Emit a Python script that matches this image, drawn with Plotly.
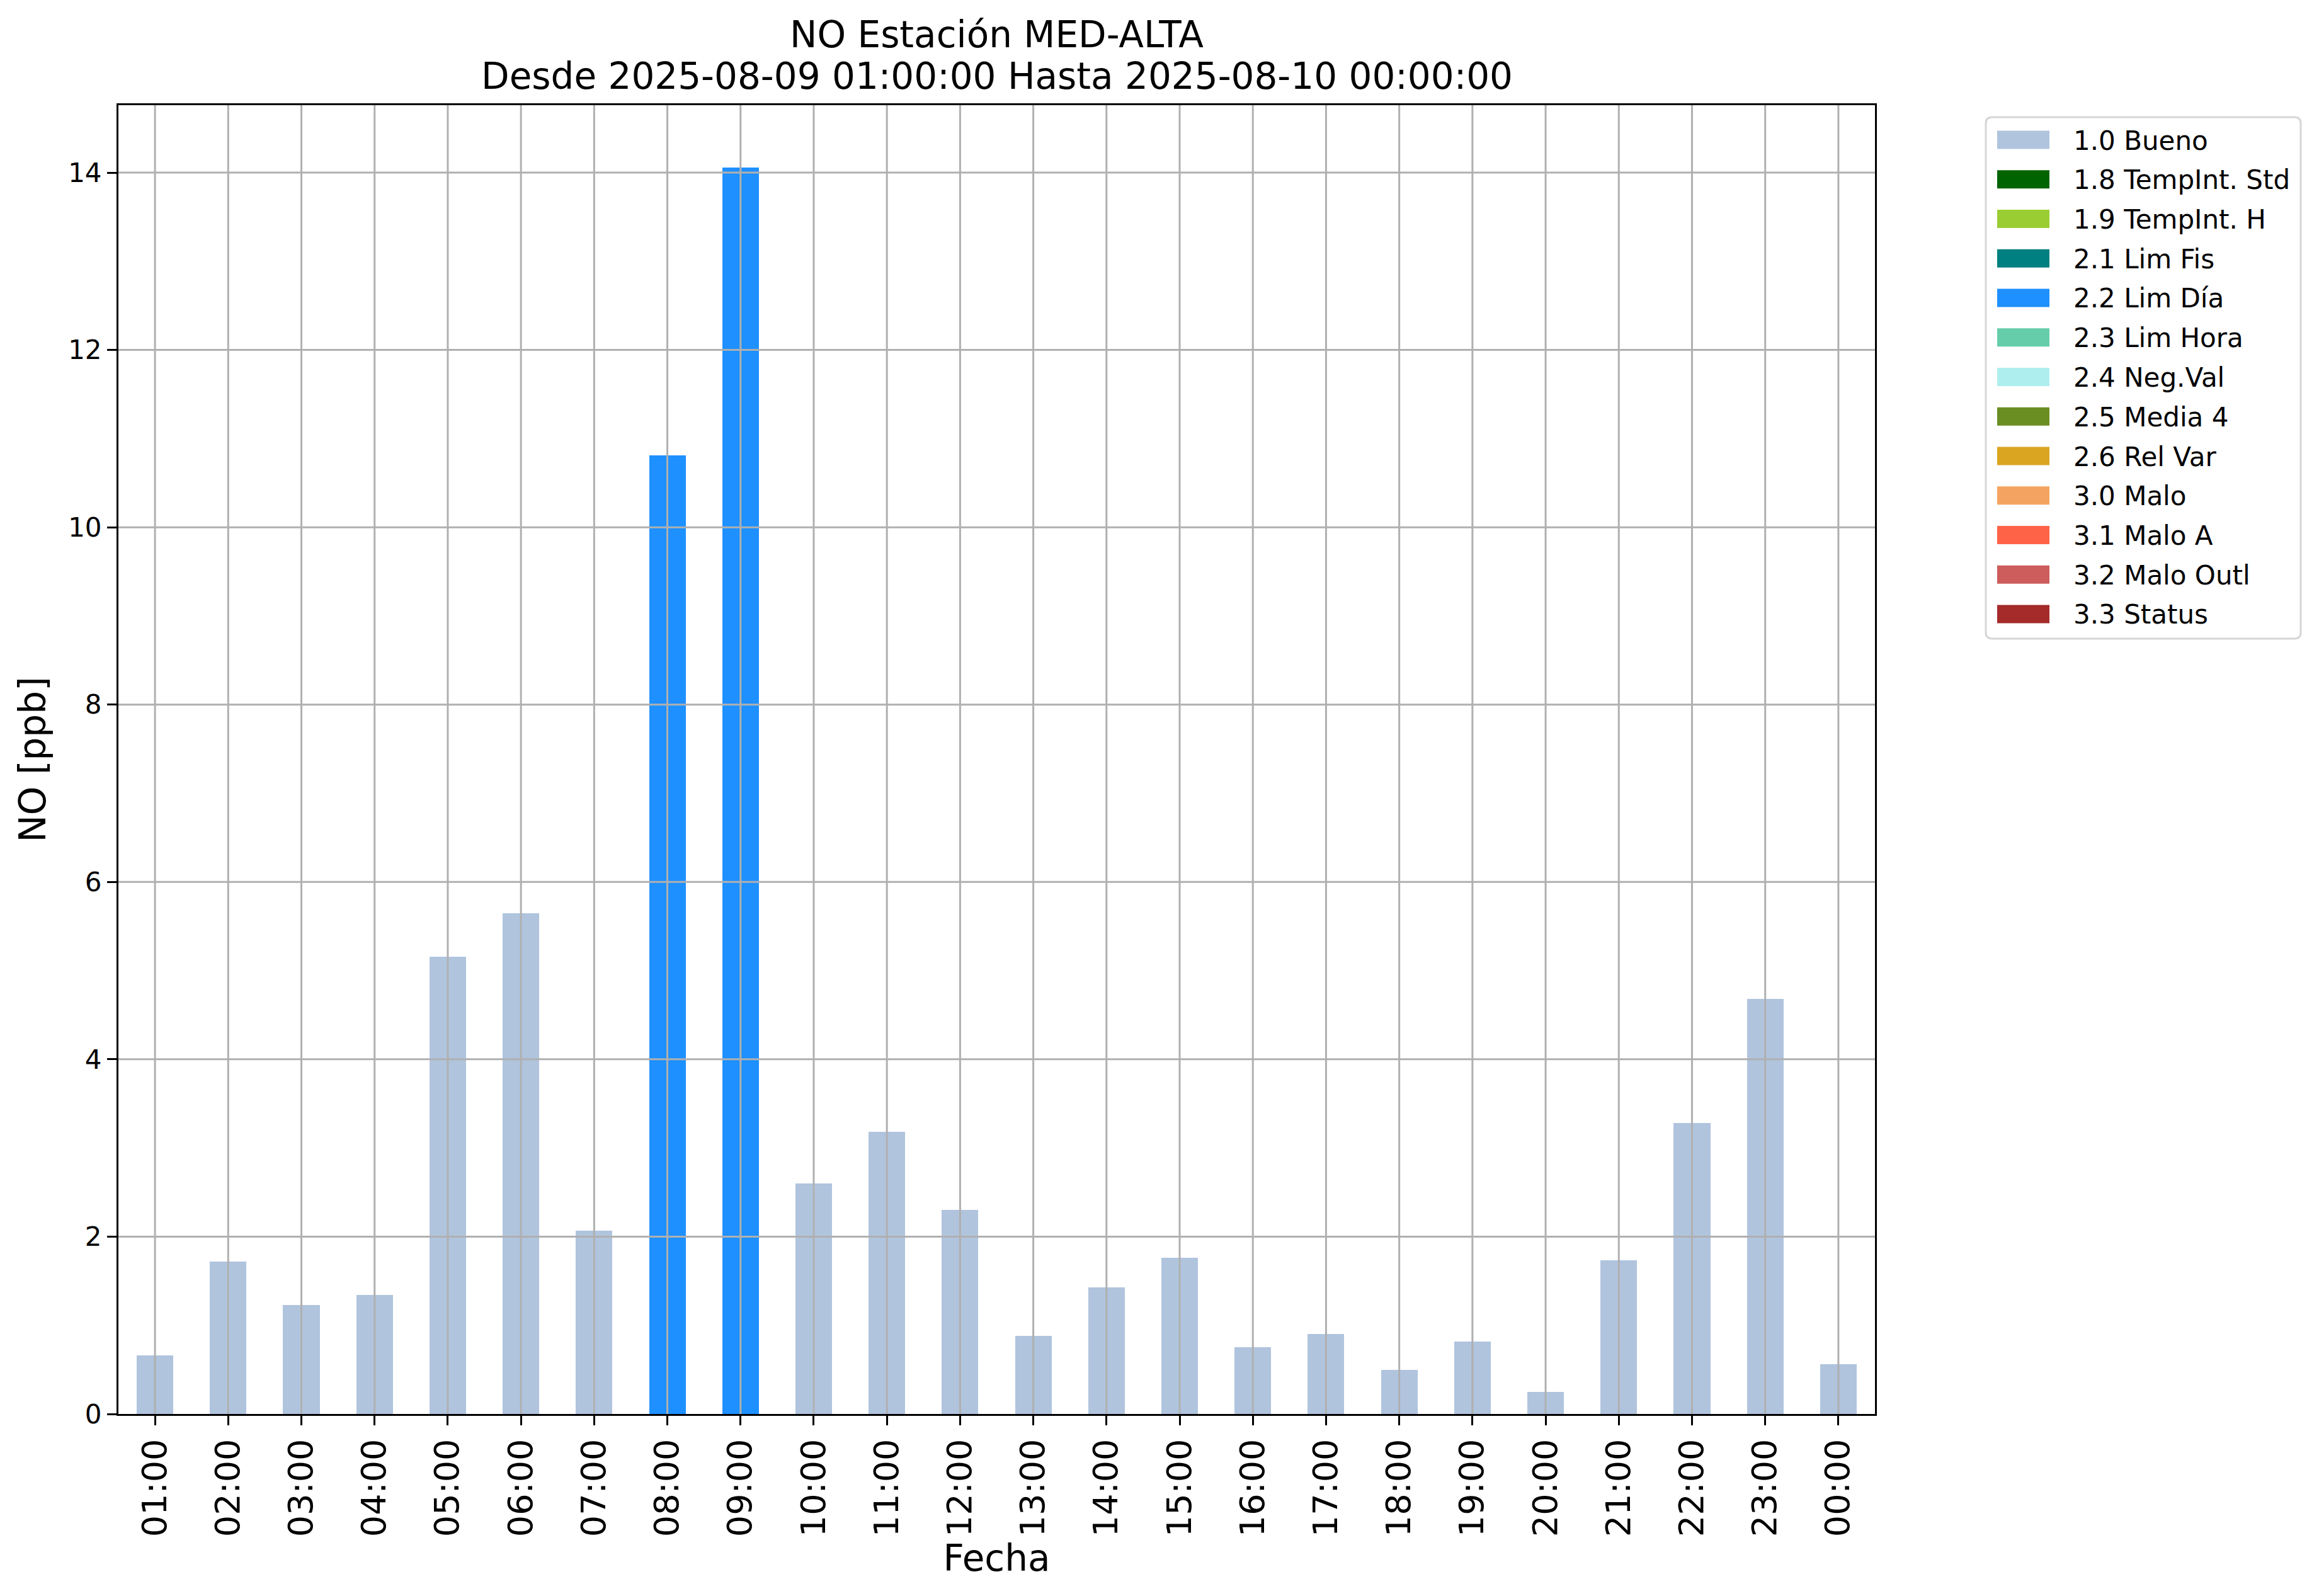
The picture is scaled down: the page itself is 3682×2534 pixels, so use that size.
import plotly.graph_objects as go

# ---------------- data ----------------
hours = ["01:00", "02:00", "03:00", "04:00", "05:00", "06:00", "07:00", "08:00",
         "09:00", "10:00", "11:00", "12:00", "13:00", "14:00", "15:00", "16:00",
         "17:00", "18:00", "19:00", "20:00", "21:00", "22:00", "23:00", "00:00"]
no_ppb = [0.66, 1.72, 1.23, 1.34, 5.16, 5.65, 2.07, 10.81,
          14.06, 2.60, 3.18, 2.30, 0.88, 1.43, 1.76, 0.75,
          0.90, 0.50, 0.82, 0.25, 1.73, 3.28, 4.68, 0.56]
hour_flag = ["1.0 Bueno"] * 7 + ["2.2 Lim Día"] * 2 + ["1.0 Bueno"] * 15

flag_labels = ["1.0 Bueno", "1.8 TempInt. Std", "1.9 TempInt. H", "2.1 Lim Fis",
               "2.2 Lim Día", "2.3 Lim Hora", "2.4 Neg.Val", "2.5 Media 4",
               "2.6 Rel Var", "3.0 Malo", "3.1 Malo A", "3.2 Malo Outl", "3.3 Status"]
flag_colors = ["#B0C4DE", "#006400", "#9ACD32", "#008080", "#1E90FF", "#66CDAA",
               "#AFEEEE", "#6B8E23", "#DAA520", "#F4A460", "#FF6347", "#CD5C5C",
               "#A52A2A"]
y_ticks = [0, 2, 4, 6, 8, 10, 12, 14]

title_line1 = "NO Estación MED-ALTA"
title_line2 = "Desde 2025-08-09 01:00:00 Hasta 2025-08-10 00:00:00"

# ---------------- geometry (page px; page body has an 8px offset) ----------------
OFF = 8
FIG_W, FIG_H = 3682 - OFF, 2534 - OFF
PL, PR, PT, PB = 188, 2977, 167, 2245          # plot area in page px
PW, PH = PR - PL, PB - PT


def px_x(px):
    return (px - PL) / PW


def px_y(py):
    return (PB - py) / PH


FONT = "DejaVu Sans"
fig = go.Figure()
for lab, col in zip(flag_labels, flag_colors):
    ys = [v if f == lab else 0 for v, f in zip(no_ppb, hour_flag)]
    fig.add_trace(go.Bar(x=hours, y=ys, name=lab, width=0.5,
                         marker=dict(color=col, line=dict(width=0)),
                         showlegend=False))

grid_col = "#b0b0b0"
shapes = []
for h in hours:
    shapes.append(dict(type="line", xref="x", yref="paper", x0=h, x1=h, y0=0, y1=1,
                       line=dict(color=grid_col, width=3), layer="above"))
for t in y_ticks[1:]:
    shapes.append(dict(type="line", xref="paper", yref="y", x0=0, x1=1, y0=t, y1=t,
                       line=dict(color=grid_col, width=3), layer="above"))

# ---- legend box drawn like matplotlib's (swatch rectangles + labels) ----
LX0, LX1, LY0, LY1 = 3153, 3653, 186, 1014
r = 10
x0, x1 = px_x(LX0), px_x(LX1)
y0, y1 = px_y(LY1), px_y(LY0)
rx, ry = r / PW, r / PH
legend_path = (f"M{x0 + rx},{y1} L{x1 - rx},{y1} Q{x1},{y1} {x1},{y1 - ry} "
               f"L{x1},{y0 + ry} Q{x1},{y0} {x1 - rx},{y0} L{x0 + rx},{y0} "
               f"Q{x0},{y0} {x0},{y0 + ry} L{x0},{y1 - ry} Q{x0},{y1} {x0 + rx},{y1} Z")
shapes.append(dict(type="path", xref="paper", yref="paper", path=legend_path,
                   line=dict(color="#d6d6d6", width=3), fillcolor="white", layer="above"))

annotations = []
ROW0, STEP = 222, 62.75
for i, (lab, col) in enumerate(zip(flag_labels, flag_colors)):
    cy = ROW0 + STEP * i
    shapes.append(dict(type="rect", xref="paper", yref="paper",
                       x0=px_x(3171), x1=px_x(3254), y0=px_y(cy + 14.5), y1=px_y(cy - 14.5),
                       line=dict(width=0), fillcolor=col, layer="above"))
    annotations.append(dict(text=lab, xref="paper", yref="paper",
                            x=px_x(3290), y=px_y(cy + 1), xanchor="left", yanchor="middle",
                            showarrow=False,
                            font=dict(size=42, family=FONT, color="black")))

annotations.append(dict(text=title_line2, xref="paper", yref="paper",
                        x=0.5, y=px_y(121), xanchor="center", yanchor="middle",
                        showarrow=False, font=dict(size=58, family=FONT, color="black")))

fig.update_layout(
    width=FIG_W, height=FIG_H,
    margin=dict(l=PL - OFF, r=FIG_W - (PR - OFF), t=PT - OFF, b=FIG_H - (PB - OFF)),
    paper_bgcolor="white", plot_bgcolor="white",
    barmode="stack", bargap=0, showlegend=False,
    font=dict(family=FONT, color="black"),
    title=dict(text=title_line1, x=0.5, xref="paper", xanchor="center",
               y=1 - (55 - OFF) / FIG_H, yref="container", yanchor="middle",
               font=dict(size=58, family=FONT, color="black")),
    shapes=shapes,
    annotations=annotations,
)
fig.update_xaxes(type="category", range=[-0.5, 23.5],
                 showline=True, linecolor="black", linewidth=3, mirror=True,
                 ticks="outside", ticklen=15, tickwidth=3, tickcolor="black",
                 tickangle=-90, tickfont=dict(size=54, family=FONT, color="black"),
                 showgrid=False, layer="above traces",
                 title=dict(text="Fecha", font=dict(size=58, family=FONT, color="black"),
                            standoff=7))
fig.update_yaxes(range=[0, 14.76], tickvals=y_ticks,
                 showline=True, linecolor="black", linewidth=3, mirror=True,
                 ticks="outside", ticklen=15, tickwidth=3, tickcolor="black",
                 tickfont=dict(size=42, family=FONT, color="black"),
                 showgrid=False, zeroline=False, layer="above traces",
                 title=dict(text="NO [ppb]", font=dict(size=58, family=FONT, color="black"),
                            standoff=17))

fig.write_html("out.html")
